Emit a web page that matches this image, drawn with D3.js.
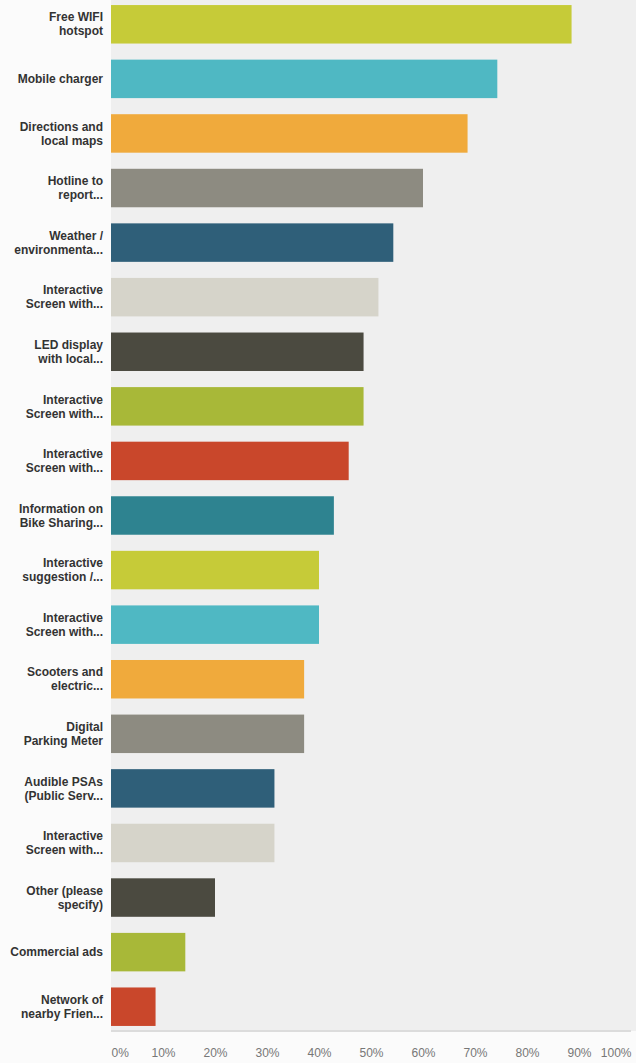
<!DOCTYPE html>
<html>
<head>
<meta charset="utf-8">
<script src="https://cdn.jsdelivr.net/npm/d3@7"></script>
<style>
  html, body { margin: 0; padding: 0; background: #fbfbfb; }
  svg { display: block; }
</style>
</head>
<body>
<svg id="chart" width="636" height="1063"></svg>
<script>
// Answer choices (two-line labels, as shown in the survey summary)
const categories = [
  ["Free WIFI", "hotspot"],
  ["Mobile charger"],
  ["Directions and", "local maps"],
  ["Hotline to", "report..."],
  ["Weather /", "environmenta..."],
  ["Interactive", "Screen with..."],
  ["LED display", "with local..."],
  ["Interactive", "Screen with..."],
  ["Interactive", "Screen with..."],
  ["Information on", "Bike Sharing..."],
  ["Interactive", "suggestion /..."],
  ["Interactive", "Screen with..."],
  ["Scooters and", "electric..."],
  ["Digital", "Parking Meter"],
  ["Audible PSAs", "(Public Serv..."],
  ["Interactive", "Screen with..."],
  ["Other (please", "specify)"],
  ["Commercial ads"],
  ["Network of", "nearby Frien..."]
];

// Share of respondents (%)
const values = [88.57, 74.29, 68.57, 60.00, 54.29, 51.43, 48.57, 48.57, 45.71,
                42.86, 40.00, 40.00, 37.14, 37.14, 31.43, 31.43, 20.00, 14.29, 8.57];

const tickValues = [0, 10, 20, 30, 40, 50, 60, 70, 80, 90, 100];
const tickLabels = ["0%", "10%", "20%", "30%", "40%", "50%", "60%", "70%", "80%", "90%", "100%"];

const palette = ["#c6cb38", "#4fb8c3", "#f0aa3c", "#8d8b81", "#2f5f79",
                 "#d6d4ca", "#4b4a40", "#a8b838", "#c9472b", "#2e8390"];

const svg = d3.select("#chart");
const plotLeft = 111, plotRight = 631, plotTop = 0, plotBottom = 1031;

const x = d3.scaleLinear().domain([0, 100]).range([plotLeft, plotRight]);
const y = d3.scaleBand()
  .domain(d3.range(categories.length))
  .range([-3, 1034])
  .paddingInner(0.295)
  .paddingOuter(0.1475);

// plot background
svg.append("rect")
  .attr("x", plotLeft).attr("y", plotTop)
  .attr("width", 636 - plotLeft).attr("height", plotBottom - plotTop)
  .attr("fill", "#efefef");

// bars
svg.append("g").selectAll("rect")
  .data(values)
  .join("rect")
  .attr("x", x(0))
  .attr("y", (d, i) => y(i))
  .attr("width", d => x(d) - x(0))
  .attr("height", y.bandwidth())
  .attr("fill", (d, i) => palette[i % palette.length]);

// baseline
svg.append("line")
  .attr("x1", plotLeft).attr("x2", plotRight)
  .attr("y1", plotBottom).attr("y2", plotBottom)
  .attr("stroke", "#dcdcdc").attr("stroke-width", 2);

// category labels
const labels = svg.append("g")
  .attr("font-family", "Liberation Sans, Arial, Helvetica, sans-serif")
  .attr("font-size", 12)
  .attr("font-weight", "bold")
  .attr("fill", "#333")
  .attr("text-anchor", "end");

categories.forEach((lines, i) => {
  const cy = y(i) + y.bandwidth() / 2;
  const lineH = 14;
  const t = labels.append("text").attr("x", 103);
  lines.forEach((ln, k) => {
    t.append("tspan")
      .attr("x", 103)
      .attr("y", cy + (k - (lines.length - 1) / 2) * lineH)
      .attr("dy", "0.35em")
      .text(ln);
  });
});

// x axis tick labels
const axis = d3.axisBottom(x)
  .tickValues(tickValues)
  .tickFormat((d, i) => tickLabels[i])
  .tickSize(0)
  .tickPadding(0);

const gx = svg.append("g")
  .attr("transform", `translate(0, ${plotBottom + 17})`)
  .call(axis);
gx.select(".domain").remove();
gx.selectAll("text")
  .attr("font-family", "Liberation Sans, Arial, Helvetica, sans-serif")
  .attr("font-size", 12)
  .attr("fill", "#777")
  .attr("text-anchor", (d) => d === 0 ? "start" : d === 100 ? "end" : "middle");
</script>
</body>
</html>
